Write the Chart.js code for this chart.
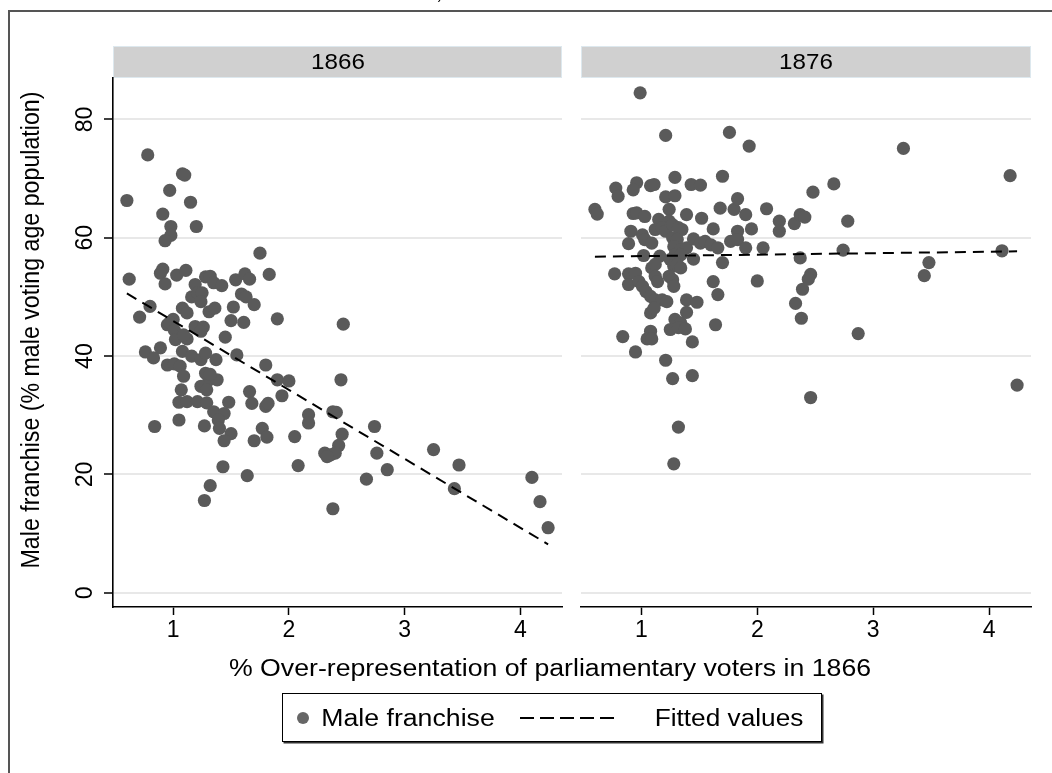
<!DOCTYPE html>
<html>
<head>
<meta charset="utf-8">
<script src="https://cdn.jsdelivr.net/npm/chart.js@4.4.1/dist/chart.umd.min.js"></script>
<style>
  body { margin: 0; background: #fff; }
  #wrap { position: relative; width: 1052px; height: 773px; overflow: hidden; background: #fff;
          font-family: "Liberation Sans", Arial, sans-serif; color: #000; }
  #wrap canvas { position: absolute; left: 0; top: 0; }
  .txt { position: absolute; white-space: nowrap; line-height: 1; }
  .strip { position: absolute; top: 46px; height: 32px; background: #d0d0d0; box-sizing: border-box; border: 1px solid #dde8ee; }
</style>
</head>
<body>
<div id="wrap">
  <div style="position:absolute;left:8px;top:10px;width:1.5px;height:763px;background:#555"></div>
  <div style="position:absolute;left:8px;top:10px;width:1044px;height:1.5px;background:#555"></div>
  <div class="strip" style="left:113px;width:449px"></div>
  <div class="strip" style="left:581px;width:450px"></div>
  <canvas id="c1866" width="1052" height="773"></canvas>
  <canvas id="c1876" width="1052" height="773"></canvas>
  <div id="legend" style="position:absolute;left:282px;top:693px;width:540px;height:49px;box-sizing:border-box;border:1px solid #000;box-shadow:1.5px 1.5px 0 #333"></div>
  <div style="position:absolute;left:297px;top:712px;width:12px;height:12px;border-radius:50%;background:#666"></div>
  <svg style="position:absolute;left:0;top:0" width="1052" height="773">
    <line x1="520" y1="718" x2="614" y2="718" stroke="#000" stroke-width="2" stroke-dasharray="14,6"/>
  </svg>
</div>
<script>
// panel titles and axis ticks
const panelLabels = ['1866', '1876'];
const xTickValues = [1, 2, 3, 4];
const yTickValues = [0, 20, 40, 60, 80];

// fitted lines (two ends of each regression line)
const fitX = [0.60, 4.24];
const fit1866 = [50.6, 8.2];
const fit1876 = [56.8, 57.7];

// scatter, 1866 panel
const x1866 = [0.60, 0.78, 1.08, 1.10, 0.97, 1.15, 0.91, 0.98, 1.20, 0.98, 0.93, 1.75, 0.62, 0.91, 0.89, 0.93,
  1.03, 1.11, 1.28, 1.32, 1.19, 1.35, 1.42, 1.54, 1.62, 1.66, 1.83, 1.16, 1.21, 1.25, 1.24, 1.59, 1.63, 1.70,
  2.47, 1.90, 0.80, 0.71, 1.08, 1.12, 1.31, 1.36, 1.52, 1.50, 1.61, 1.45, 0.95, 1.00, 0.97, 1.01, 1.02, 1.12,
  1.09, 1.19, 1.26, 1.24, 0.76, 0.89, 0.83, 1.08, 1.16, 1.24, 1.28, 1.37, 1.55, 0.95, 1.01, 1.06, 1.09, 1.28,
  1.31, 1.38, 1.32, 1.24, 1.29, 1.80, 1.90, 2.00, 1.94, 1.66, 1.07, 1.05, 1.12, 1.21, 1.29, 1.48, 1.68, 1.80,
  1.82, 2.05, 2.17, 2.17, 1.35, 1.44, 1.39, 1.05, 0.84, 1.27, 1.40, 1.50, 1.44, 1.70, 1.77, 1.81, 1.43, 1.64,
  2.08, 1.32, 1.27, 2.45, 2.38, 2.41, 2.46, 2.43, 2.31, 2.36, 2.40, 2.33, 2.38, 2.74, 2.76, 2.85, 2.67, 3.25,
  3.47, 3.43, 4.10, 4.17, 4.24];
const y1866 = [66.3, 74.0, 70.8, 70.6, 68.0, 66.0, 64.0, 61.9, 61.9, 60.4, 59.5, 57.4, 53.0, 54.7, 54.0, 52.2,
  53.7, 54.5, 53.4, 53.5, 52.1, 52.4, 51.9, 52.9, 53.9, 53.0, 53.8, 50.0, 50.7, 50.7, 49.2, 50.5, 50.0, 48.7,
  45.4, 46.3, 48.4, 46.6, 48.1, 47.3, 47.5, 48.1, 48.3, 46.0, 45.7, 43.2, 45.3, 46.2, 45.7, 44.4, 42.8, 42.9,
  43.6, 45.0, 44.9, 44.2, 40.7, 41.4, 39.7, 40.8, 40.0, 39.4, 40.5, 39.4, 40.2, 38.5, 38.7, 38.3, 36.6, 37.1,
  36.0, 36.0, 36.9, 34.9, 34.3, 38.5, 36.0, 35.8, 33.3, 34.0, 34.3, 32.2, 32.3, 32.3, 32.1, 32.2, 32.0, 31.5,
  32.0, 26.4, 30.1, 28.7, 30.6, 30.3, 29.2, 29.2, 28.1, 28.2, 27.8, 26.9, 25.7, 25.7, 27.8, 26.3, 21.3, 19.8,
  21.5, 18.1, 15.6, 36.0, 30.6, 30.5, 26.8, 24.9, 23.6, 23.3, 23.6, 23.0, 14.2, 28.1, 23.6, 20.8, 19.2, 24.2,
  21.6, 17.6, 19.5, 15.4, 11.0];

// scatter, 1876 panel
const x1876 = [0.99, 1.21, 1.76, 1.93, 1.70, 1.29, 0.78, 0.80, 0.96, 0.93, 1.08, 1.11, 1.21, 1.29, 1.43, 1.51,
  2.48, 0.60, 0.62, 0.93, 0.96, 1.03, 1.24, 1.39, 1.52, 1.68, 1.80, 1.83, 1.90, 2.08, 2.19, 2.19, 2.32, 2.37,
  2.41, 1.15, 1.24, 1.62, 0.91, 0.89, 1.01, 1.03, 1.09, 1.12, 1.18, 1.21, 1.27, 1.32, 1.35, 1.27, 1.31, 1.28,
  1.34, 1.39, 1.45, 1.51, 1.55, 1.60, 1.66, 1.77, 1.83, 1.83, 1.95, 1.90, 2.05, 1.02, 1.16, 1.25, 1.29, 1.34,
  1.45, 1.70, 2.00, 1.09, 1.12, 1.28, 1.31, 1.34, 0.77, 0.89, 0.95, 0.89, 0.98, 1.01, 1.12, 1.14, 1.24, 1.27,
  1.28, 1.62, 1.66, 1.04, 1.08, 1.12, 1.18, 1.22, 1.39, 1.48, 1.39, 1.08, 1.11, 1.29, 1.34, 1.25, 1.32, 1.38,
  1.64, 1.08, 0.84, 1.05, 1.09, 1.44, 0.95, 1.21, 1.27, 1.44, 1.32, 1.28, 2.33, 2.38, 2.46, 2.37, 2.46, 2.44,
  2.39, 2.66, 3.26, 2.78, 2.74, 4.18, 4.11, 3.48, 3.44, 2.87, 4.24];
const y1876 = [84.5, 77.3, 77.8, 75.5, 70.4, 70.2, 68.4, 67.0, 69.3, 68.1, 68.8, 69.0, 66.9, 67.1, 69.0, 68.9,
  67.7, 64.8, 64.0, 64.1, 64.2, 63.6, 64.8, 63.9, 63.3, 65.0, 64.8, 66.6, 63.9, 64.9, 62.8, 61.1, 62.4, 63.9,
  63.5, 63.1, 62.8, 61.5, 61.1, 59.0, 60.5, 59.7, 59.1, 61.4, 61.7, 61.1, 62.2, 61.7, 61.4, 60.0, 59.7, 58.5,
  58.0, 58.3, 59.8, 59.1, 59.4, 58.8, 58.3, 59.4, 61.1, 59.7, 61.5, 58.3, 58.3, 57.0, 56.9, 56.3, 57.1, 57.1,
  56.4, 55.8, 52.7, 54.9, 55.5, 55.2, 55.5, 54.9, 53.9, 53.9, 54.0, 52.1, 52.6, 51.8, 53.5, 52.6, 53.5, 52.9,
  51.8, 52.6, 50.4, 50.9, 50.1, 49.5, 49.5, 49.2, 49.5, 49.1, 47.4, 47.3, 48.1, 46.2, 45.6, 44.5, 44.8, 44.6,
  45.3, 44.2, 43.3, 42.9, 42.9, 42.4, 40.7, 39.3, 36.2, 36.7, 28.0, 21.8, 48.9, 46.4, 33.0, 56.6, 53.8, 53.0,
  51.3, 69.1, 75.1, 62.8, 57.9, 70.5, 57.8, 55.8, 53.6, 43.8, 35.1];

const FONT = '"Liberation Sans", Arial, sans-serif';

// vertical tick labels on the left axis (Stata style)
const yLabelPlugin = {
  id: 'yLabels',
  afterDraw(chart) {
    const s = chart.scales.y;
    const ctx = chart.ctx;
    ctx.save();
    ctx.fillStyle = '#000';
    ctx.font = '22px ' + FONT;
    ctx.textAlign = 'center';
    ctx.textBaseline = 'alphabetic';
    s.ticks.forEach(function (t) {
      ctx.save();
      ctx.translate(s.right - 21, s.getPixelForValue(t.value));
      ctx.rotate(-Math.PI / 2);
      ctx.scale(1.05, 1.1);
      ctx.fillText(String(t.value), 0, 0);
      ctx.restore();
    });
    ctx.restore();
  }
};

function makePanel(id, xs, ys, fitY, area, showY) {
  const pts = xs.map(function (x, i) { return {x: x, y: ys[i]}; });
  const fit = fitX.map(function (x, i) { return {x: x, y: fitY[i]}; });
  return new Chart(document.getElementById(id), {
    type: 'scatter',
    data: {
      datasets: [
        { type: 'line', label: 'Fitted values', data: fit, borderColor: '#000', borderWidth: 2,
          borderDash: [11, 7], pointRadius: 0, fill: false, order: 0 },
        { label: 'Male franchise', data: pts, backgroundColor: '#5a5a5a', borderWidth: 0,
          pointRadius: 6.6, order: 1 }
      ]
    },
    options: {
      responsive: false,
      animation: false,
      devicePixelRatio: 1,
      layout: { padding: { left: showY ? 0 : area.left, top: area.top, right: 1052 - area.right, bottom: 0 } },
      plugins: { legend: { display: false }, tooltip: { enabled: false } },
      scales: {
        x: {
          type: 'linear', min: 0.48, max: 4.36,
          afterBuildTicks: function (s) { s.ticks = xTickValues.map(function (v) { return {value: v}; }); },
          afterFit: function (s) { s.height = 773 - area.bottom; },
          grid: { drawOnChartArea: false, drawTicks: true, tickLength: 8, tickColor: '#000', tickWidth: 1.5 },
          border: { display: true, color: '#000', width: 1.6 },
          ticks: { color: '#000', font: { family: FONT, size: 23 }, padding: 2, maxRotation: 0 }
        },
        y: {
          type: 'linear', min: -2.4, max: 87,
          afterBuildTicks: function (s) { s.ticks = yTickValues.map(function (v) { return {value: v}; }); },
          afterFit: function (s) { s.width = showY ? area.left : 0; },
          grid: { color: '#e8e8e8', lineWidth: 2, drawTicks: showY, tickLength: 9, tickColor: '#000', tickWidth: 1.5 },
          border: { display: showY, color: '#000', width: 1.6 },
          ticks: { display: false }
        }
      }
    },
    plugins: showY ? [yLabelPlugin] : []
  });
}

makePanel('c1866', x1866, y1866, fit1866, {left: 113, right: 562, top: 78, bottom: 607}, true);
makePanel('c1876', x1876, y1876, fit1876, {left: 581, right: 1031, top: 78, bottom: 607}, false);

// texts
const wrap = document.getElementById('wrap');
function addText(str, cx, cy, size, stretch, rotate) {
  const d = document.createElement('div');
  d.className = 'txt';
  d.textContent = str;
  d.style.left = cx + 'px';
  d.style.top = cy + 'px';
  d.style.fontSize = size + 'px';
  d.style.transform = rotate ? 'translate(-50%, -50%) rotate(-90deg) scaleY(' + stretch + ')'
                             : 'translate(-50%, -50%) scaleX(' + stretch + ')';
  wrap.appendChild(d);
}
addText(panelLabels[0], 338, 62, 22, 1.1);
addText(panelLabels[1], 806, 62, 22, 1.1);
addText('% Over-representation of parliamentary voters in 1866', 550, 668, 23, 1.16);
addText('Male franchise (% male voting age population)', 31, 330, 23.2, 1.12, true);
addText('Male franchise', 408, 718, 23, 1.16);
addText('Fitted values', 728.5, 718, 23, 1.14);
addText(')', 440, -6, 14, 1);
</script>
</body>
</html>
